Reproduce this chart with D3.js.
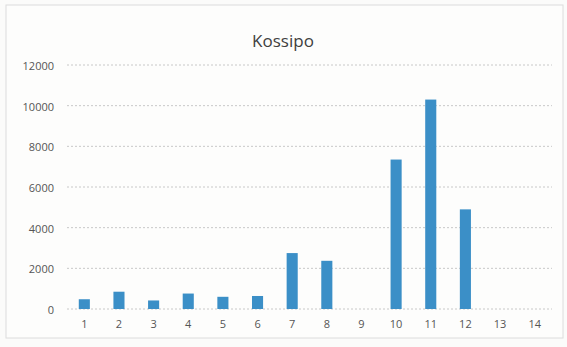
<!DOCTYPE html>
<html><head><meta charset="utf-8">
<script src="https://cdn.jsdelivr.net/npm/d3@7"></script>
<style>body{margin:0;background:#fbfbfa}</style>
</head><body>
<svg id="c" width="567" height="347"></svg>
<script>
const title = "Kossipo";
const categories = ["1","2","3","4","5","6","7","8","9","10","11","12","13","14"];
const values = [480, 850, 420, 760, 600, 640, 2750, 2370, 0, 7350, 10300, 4900, 0, 0];
const yTicks = [0, 2000, 4000, 6000, 8000, 10000, 12000];

const svg = d3.select("#c");
svg.append("rect").attr("x",6).attr("y",5).attr("width",557).attr("height",333)
  .attr("fill","#fdfdfc").attr("stroke","#dcdcdc").attr("stroke-width",1);

const x = d3.scaleBand().domain(categories).range([67, 552]).paddingInner(0.68).paddingOuter(0.34);
const y = d3.scaleLinear().domain([0, 12000]).range([309, 65]);

// gridlines
svg.append("g").selectAll("line").data(yTicks).join("line")
  .attr("x1",67).attr("x2",552)
  .attr("y1",d=>y(d)).attr("y2",d=>y(d))
  .attr("stroke","#c8c8c8").attr("stroke-width",1).attr("stroke-dasharray","2,2");

// y axis labels
const ya = svg.append("g").attr("transform","translate(54,1)")
  .call(d3.axisLeft(y).tickValues(yTicks).tickFormat(d3.format("d")).tickSize(0).tickPadding(0));
ya.select(".domain").remove();
ya.selectAll("text").attr("font-family","Open Sans, sans-serif").attr("font-size",11).attr("fill","#555");

// x axis labels
const xa = svg.append("g").attr("transform","translate(0,318)")
  .call(d3.axisBottom(x).tickSize(0).tickPadding(2));
xa.select(".domain").remove();
xa.selectAll("text").attr("font-family","Open Sans, sans-serif").attr("font-size",11).attr("fill","#555");

// bars
svg.append("g").selectAll("rect").data(values).join("rect")
  .attr("x",(d,i)=>x(categories[i]))
  .attr("width",x.bandwidth())
  .attr("y",d=>y(d))
  .attr("height",d=>y(0)-y(d))
  .attr("fill","#3b8fc7");

svg.append("text").attr("x",283).attr("y",47).attr("text-anchor","middle")
  .attr("font-family","Open Sans, sans-serif").attr("font-size",17).attr("fill","#404040").text(title);
</script>
</body></html>
